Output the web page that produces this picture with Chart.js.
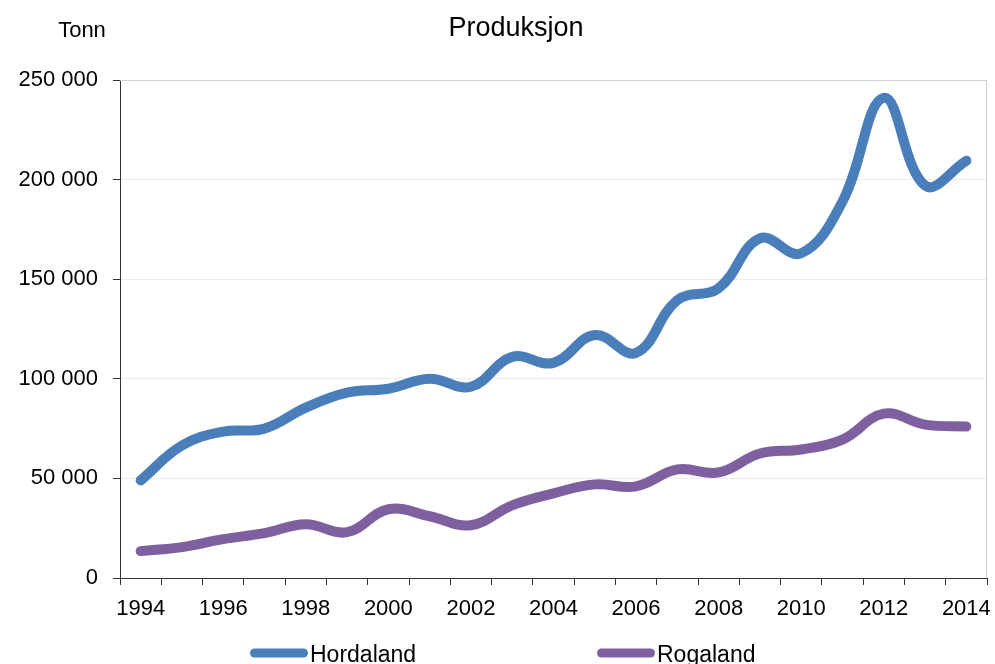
<!DOCTYPE html>
<html>
<head>
<meta charset="utf-8">
<script src="https://cdn.jsdelivr.net/npm/chart.js@4/dist/chart.umd.min.js"></script>
<style>
  html, body { margin: 0; padding: 0; background: #fff; }
  #wrap { width: 995px; height: 664px; position: relative; }
</style>
</head>
<body>
<div id="wrap"><canvas id="grafico" width="995" height="664"></canvas></div>
<script>
// Data lest av figuren
const aar = ['1994', '1995', '1996', '1997', '1998', '1999', '2000', '2001', '2002', '2003', '2004',
  '2005', '2006', '2007', '2008', '2009', '2010', '2011', '2012', '2013', '2014'];
const hordaland = [49000, 66500, 73500, 75000, 85500, 93000, 95000, 100000, 96000, 111000, 108000,
  122000, 113000, 139500, 145500, 170500, 163000, 189000, 241000, 197000, 209500];
const rogaland = [13500, 15500, 19500, 22500, 27000, 23000, 34500, 31000, 26500, 36500, 42500,
  47000, 46000, 54500, 53000, 62500, 64500, 69500, 82500, 77000, 76000];
const yTicks = [0, 50000, 100000, 150000, 200000, 250000];

const FONT = '"Liberation Sans", Arial, sans-serif';

function tusen(v) {
  return String(v).replace(/\B(?=(\d{3})+(?!\d))/g, ' ');
}

// Tittel, "Tonn", ramme og forklaring tegnes her
const ekstra = {
  id: 'ekstra',
  afterDraw(chart) {
    const ctx = chart.ctx;
    const a = chart.chartArea;
    ctx.save();
    // lys ramme oppe og til høyre
    ctx.strokeStyle = '#d0d0d0';
    ctx.lineWidth = 1;
    ctx.beginPath();
    ctx.moveTo(a.left, a.top + 0.5);
    ctx.lineTo(a.right - 0.5, a.top + 0.5);
    ctx.lineTo(a.right - 0.5, a.bottom);
    ctx.stroke();

    ctx.fillStyle = '#000';
    ctx.textBaseline = 'alphabetic';
    ctx.font = '27px ' + FONT;
    ctx.textAlign = 'center';
    ctx.fillText('Produksjon', 516, 36);
    ctx.font = '22px ' + FONT;
    ctx.fillText('Tonn', 82, 37);

    // forklaring
    const starts = [250, 597];
    chart.data.datasets.forEach((ds, i) => {
      const x = starts[i];
      ctx.strokeStyle = ds.borderColor;
      ctx.lineWidth = 9;
      ctx.lineCap = 'round';
      ctx.beginPath();
      ctx.moveTo(x + 4.5, 653);
      ctx.lineTo(x + 58 - 4.5, 653);
      ctx.stroke();
      ctx.fillStyle = '#000';
      ctx.textAlign = 'left';
      ctx.font = '23px ' + FONT;
      ctx.fillText(ds.label, x + 60, 662);
    });
    ctx.restore();
  }
};

new Chart(document.getElementById('grafico'), {
  type: 'line',
  data: {
    labels: aar,
    datasets: [
      {
        label: 'Hordaland',
        data: hordaland,
        borderColor: '#4a7ebb',
        borderWidth: 10,
        borderCapStyle: 'round',
        borderJoinStyle: 'round',
        pointRadius: 0,
        tension: 0.4,
        fill: false
      },
      {
        label: 'Rogaland',
        data: rogaland,
        borderColor: '#7e60a0',
        borderWidth: 10,
        borderCapStyle: 'round',
        borderJoinStyle: 'round',
        pointRadius: 0,
        tension: 0.4,
        fill: false
      }
    ]
  },
  options: {
    responsive: false,
    animation: false,
    devicePixelRatio: 1,
    layout: { padding: { left: 0, right: 8, top: 80, bottom: 0 } },
    plugins: {
      legend: { display: false },
      title: { display: false },
      tooltip: { enabled: false }
    },
    scales: {
      x: {
        type: 'category',
        offset: true,
        grid: {
          offset: true,
          drawOnChartArea: false,
          drawTicks: true,
          tickLength: 7,
          tickColor: '#333'
        },
        border: { display: true, color: '#333', width: 1 },
        ticks: {
          autoSkip: false,
          maxRotation: 0,
          minRotation: 0,
          padding: 11,
          color: '#000',
          font: { family: FONT, size: 22 },
          callback: function (val, idx) {
            return idx % 2 === 0 ? this.getLabelForValue(val) : '';
          }
        },
        afterFit(scale) {
          scale.height = 86;
          scale.paddingLeft = 0;
          scale.paddingRight = 0;
        }
      },
      y: {
        min: 0,
        max: 250000,
        afterBuildTicks(scale) {
          scale.ticks = yTicks.map(v => ({ value: v }));
        },
        grid: {
          color: '#ececec',
          tickLength: 7,
          tickColor: '#333'
        },
        border: { display: true, color: '#333', width: 1 },
        ticks: {
          padding: 15,
          color: '#000',
          font: { family: FONT, size: 22 },
          callback: v => tusen(v)
        },
        afterFit(scale) { scale.width = 120; }
      }
    }
  },
  plugins: [ekstra]
});
</script>
</body>
</html>
